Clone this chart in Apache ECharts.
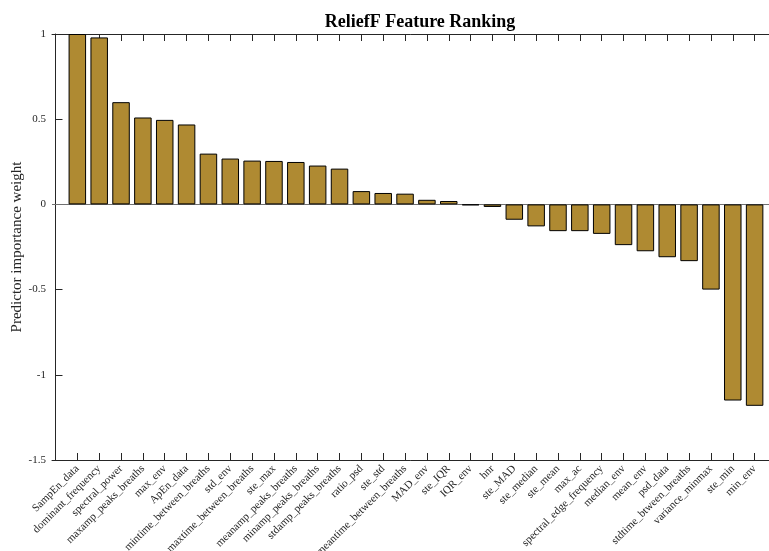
<!DOCTYPE html>
<html>
<head>
<meta charset="utf-8">
<script src="https://cdn.jsdelivr.net/npm/echarts@6/dist/echarts.min.js"></script>
<style>html,body{margin:0;padding:0;background:#fff;}#c{width:769px;height:551px;}</style>
</head>
<body>
<div id="c"></div>
<script>
var categories = ["SampEn_data","dominant_frequency","spectral_power","maxamp_peaks_breaths","max_env","ApEn_data","mintime_between_breaths","std_env","maxtime_between_breaths","ste_max","meanamp_peaks_breaths","minamp_peaks_breaths","stdamp_peaks_breaths","ratio_psd","ste_std","meantime_between_breaths","MAD_env","ste_IQR","IQR_env","hnr","ste_MAD","ste_median","ste_mean","max_ac","spectral_edge_frequency","median_env","mean_env","psd_data","stdtime_btween_breaths","variance_minmax","ste_min","min_env"];
var weights = [1.0,0.98,0.60,0.51,0.496,0.469,0.298,0.269,0.257,0.255,0.249,0.228,0.21,0.078,0.067,0.063,0.027,0.02,-0.005,-0.015,-0.09,-0.129,-0.157,-0.157,-0.173,-0.239,-0.275,-0.31,-0.333,-0.5,-1.151,-1.182];
var yTicks = [-1.5,-1,-0.5,0,0.5,1];
var positions = categories.map(function(_, i){ return i + 1; });

var serif = '"Liberation Serif","DejaVu Serif",serif';
var chart = echarts.init(document.getElementById('c'));
chart.setOption({
  animation: false,
  backgroundColor: '#fff',
  title: {
    text: 'ReliefF Feature Ranking',
    left: 415, top: 8, textAlign: 'center',
    textStyle: {fontFamily: serif, fontWeight: 'bold', fontSize: 18, color: '#000'}
  },
  grid: {left: 52, top: 34, width: 726, height: 426, outerBoundsMode: 'none', containLabel: false},
  xAxis: [{
    type: 'value', position: 'bottom', min: -0.16, max: 33.07,
    splitLine: {show: false},
    axisLine: {show: true, onZero: false, lineStyle: {color: '#262626', width: 1}},
    axisTick: {show: true, inside: true, length: 7, customValues: positions, lineStyle: {color: '#262626'}},
    axisLabel: {
      show: true, rotate: 45, margin: 7, customValues: positions,
      fontFamily: serif, fontSize: 11, color: '#262626',
      formatter: function(v){ return categories[Math.round(v) - 1] || ''; }
    }
  }, {
    type: 'value', position: 'top', min: -0.16, max: 33.07,
    splitLine: {show: false},
    axisLine: {show: true, onZero: false, lineStyle: {color: '#262626', width: 1}},
    axisTick: {show: true, inside: true, length: 7, customValues: positions, lineStyle: {color: '#262626'}},
    axisLabel: {show: false}
  }],
  yAxis: {
    type: 'value', min: -1.5, max: 1, interval: 0.5,
    name: 'Predictor importance weight', nameLocation: 'middle', nameGap: 27,
    nameMoveOverlap: false,
    nameTextStyle: {fontFamily: serif, fontSize: 15, color: '#262626'},
    splitLine: {show: false},
    axisLine: {show: true, lineStyle: {color: '#262626', width: 1}},
    axisTick: {show: true, inside: true, length: 7, lineStyle: {color: '#262626'}},
    axisLabel: {fontFamily: serif, fontSize: 11, color: '#262626', margin: 6,
      formatter: function(v){ return String(v); }}
  },
  series: [{
    type: 'bar',
    xAxisIndex: 0,
    barWidth: 17.5,
    data: positions.map(function(p, i){ return [p, weights[i]]; }),
    itemStyle: {color: '#AF8A32', borderColor: '#000', borderWidth: 1},
    markLine: {
      silent: true, symbol: 'none', label: {show: false},
      lineStyle: {color: '#707070', type: 'solid', width: 1},
      data: [{yAxis: 0}],
      z: 1
    }
  }]
});
</script>
</body>
</html>
